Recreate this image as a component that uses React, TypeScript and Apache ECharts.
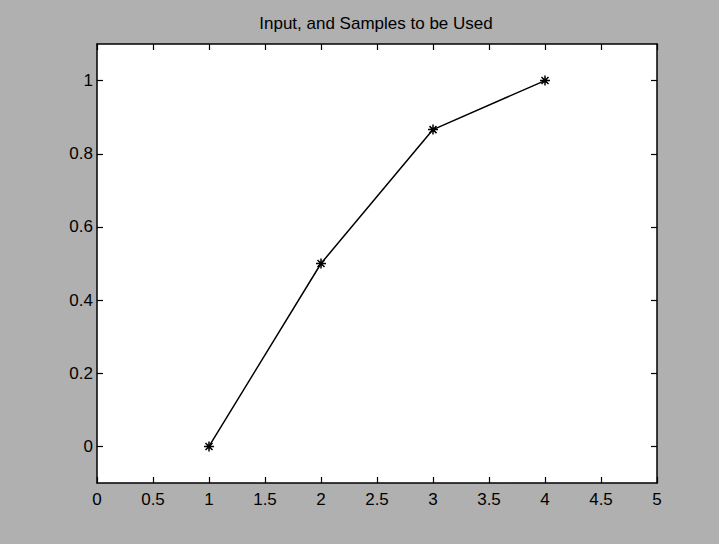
import React, { useEffect, useRef } from "react";
import * as echarts from "echarts";

const titleText = "Input, and Samples to be Used";
const xValues = [1, 2, 3, 4];
const yValues = [0, 0.5, 0.866, 1];
const yTickValues = [0, 0.2, 0.4, 0.6, 0.8, 1];

const FONT = "'Liberation Sans', Arial, Helvetica, sans-serif";

export default function App() {
  const ref = useRef<HTMLDivElement>(null);
  useEffect(() => {
    if (!ref.current) return;
    const chart = echarts.init(ref.current, undefined, { renderer: "svg" });
    const grid = { left: 97, right: 62, top: 44, bottom: 61 };
    const xBase = {
      type: "value",
      min: 0,
      max: 5,
      interval: 0.5,
      splitLine: { show: false },
      axisLine: { show: true, onZero: false, lineStyle: { color: "#000", width: 1.5 } },
      axisTick: { show: true, inside: true, length: 6, lineStyle: { color: "#000", width: 1.2 } },
    };
    const yBase = {
      type: "value",
      min: -0.1,
      max: 1.1,
      splitLine: { show: false },
      axisLine: { show: true, onZero: false, lineStyle: { color: "#000", width: 1.5 } },
      axisTick: {
        show: true,
        inside: true,
        length: 6,
        customValues: yTickValues,
        lineStyle: { color: "#000", width: 1.2 },
      },
    };
    chart.setOption({
      animation: false,
      backgroundColor: "#b0b0b0",
      title: {
        text: titleText,
        left: 371,
        top: 10,
        textAlign: "center",
        textStyle: { fontFamily: FONT, fontSize: 17, fontWeight: "normal", color: "#000" },
      },
      grid: { ...grid, backgroundColor: "#fff", show: true, borderWidth: 0 },
      xAxis: [
        {
          ...xBase,
          position: "bottom",
          axisLabel: { show: true, margin: 8, color: "#000", fontFamily: FONT, fontSize: 17, showMinLabel: true, showMaxLabel: true },
        },
        { ...xBase, position: "top", axisLabel: { show: false } },
      ],
      yAxis: [
        {
          ...yBase,
          position: "left",
          axisLabel: {
            show: true,
            margin: 4,
            color: "#000",
            fontFamily: FONT,
            fontSize: 17,
            customValues: yTickValues,
          },
        },
        { ...yBase, position: "right", axisLabel: { show: false, customValues: yTickValues } },
      ],
      series: [
        {
          type: "line",
          xAxisIndex: 0,
          yAxisIndex: 0,
          data: xValues.map((x, i) => [x, yValues[i]]),
          symbol: "path://M5,0L5,10M0,5L10,5M1.5,1.5L8.5,8.5M1.5,8.5L8.5,1.5",
          symbolSize: 10,
          showAllSymbol: true,
          lineStyle: { color: "#000", width: 1.5 },
          itemStyle: { color: "#000", borderColor: "#000", borderWidth: 1.5 },
          emphasis: { disabled: true },
        },
      ],
    });
    return () => chart.dispose();
  }, []);
  return (
    <div
      ref={ref}
      style={{ position: "absolute", left: 0, top: 0, width: 719, height: 544 }}
    />
  );
}
